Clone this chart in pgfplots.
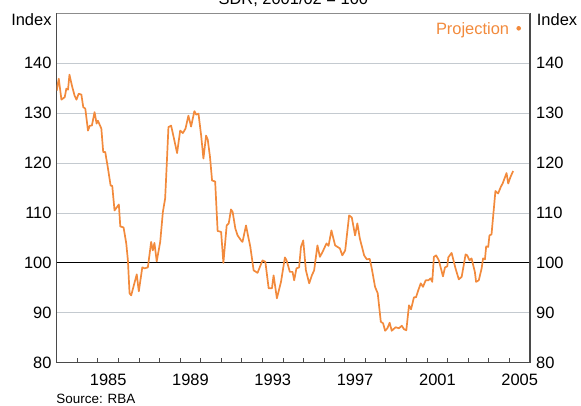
\documentclass[border=0pt]{standalone}
\usepackage{fontspec}
\setmainfont{Liberation Sans}
\usepackage{pgfplots}
\usepackage{pgfplotstable}
\pgfplotsset{compat=1.18}
\definecolor{rbaorange}{HTML}{F28A3C}
\definecolor{gridc}{HTML}{C4CAD0}
\definecolor{axc}{HTML}{4A4A4A}
\newcommand\tf{\fontsize{16.5}{19}\selectfont}
\pgfplotstableread{
year value
1983.00 134.5
1983.10 136.9
1983.23 132.7
1983.39 133.2
1983.47 134.9
1983.55 134.7
1983.62 137.7
1983.74 135.5
1983.87 133.5
1983.96 132.7
1984.07 133.9
1984.20 133.7
1984.29 131.2
1984.39 130.9
1984.52 126.5
1984.61 127.5
1984.71 127.5
1984.84 130.2
1984.94 127.9
1985.00 128.5
1985.17 126.9
1985.26 122.2
1985.36 122.2
1985.41 120.9
1985.47 119.5
1985.62 115.5
1985.70 115.4
1985.81 110.5
1986.02 111.7
1986.09 107.3
1986.25 107.1
1986.38 103.9
1986.46 100.5
1986.54 93.9
1986.62 93.5
1986.89 97.7
1986.99 94.3
1987.16 99.1
1987.27 98.9
1987.43 99.1
1987.59 104.2
1987.67 102.5
1987.75 104.0
1987.86 100.3
1988.03 104.2
1988.16 110.2
1988.27 112.9
1988.35 119.9
1988.43 127.2
1988.56 127.5
1988.72 124.5
1988.85 122.0
1989.00 126.5
1989.13 126.0
1989.26 126.9
1989.40 129.5
1989.53 127.3
1989.69 130.4
1989.78 129.7
1989.89 129.9
1990.02 125.5
1990.13 120.9
1990.26 125.5
1990.34 124.7
1990.45 121.2
1990.55 116.5
1990.70 116.3
1990.82 106.4
1990.99 106.2
1991.10 100.0
1991.26 107.5
1991.36 107.9
1991.47 110.7
1991.55 110.2
1991.68 106.9
1991.79 105.5
1991.96 104.5
1992.03 104.2
1992.20 107.5
1992.31 105.2
1992.41 103.2
1992.57 98.5
1992.76 98.0
1993.00 100.5
1993.14 100.2
1993.30 94.9
1993.46 94.9
1993.54 97.5
1993.70 92.9
1993.90 96.2
1994.09 101.1
1994.17 100.5
1994.33 98.2
1994.46 98.2
1994.54 96.5
1994.65 98.9
1994.78 99.1
1994.87 103.2
1994.98 104.5
1995.11 98.5
1995.27 95.9
1995.40 97.5
1995.51 98.5
1995.67 103.5
1995.79 101.2
1995.92 102.2
1996.11 103.9
1996.21 103.4
1996.35 106.5
1996.53 103.5
1996.76 102.9
1996.88 101.5
1997.02 102.5
1997.21 109.5
1997.34 109.1
1997.50 105.5
1997.61 107.9
1997.73 104.9
1997.94 101.5
1998.07 100.7
1998.21 100.8
1998.31 98.9
1998.47 95.2
1998.60 93.9
1998.75 88.2
1998.86 87.9
1998.96 86.4
1999.07 86.9
1999.18 88.0
1999.28 86.4
1999.47 87.1
1999.63 86.9
1999.77 87.4
1999.88 86.7
1999.99 86.5
2000.12 91.5
2000.22 90.7
2000.36 93.1
2000.46 93.1
2000.57 94.5
2000.69 95.9
2000.80 95.2
2000.93 96.5
2001.06 96.5
2001.17 96.9
2001.25 96.2
2001.33 101.2
2001.44 101.5
2001.57 100.5
2001.77 97.3
2001.87 99.1
2001.98 99.3
2002.03 101.1
2002.19 102.0
2002.38 98.9
2002.54 96.7
2002.68 97.2
2002.87 101.7
2002.95 101.5
2003.06 100.5
2003.16 100.9
2003.32 98.2
2003.38 96.2
2003.51 96.5
2003.65 98.9
2003.72 100.9
2003.81 100.7
2003.87 103.3
2003.97 103.2
2004.03 105.5
2004.13 105.7
2004.32 114.4
2004.45 113.9
2004.58 115.2
2004.68 116.0
2004.86 118.0
2004.94 115.9
2005.05 117.2
2005.18 118.4
}\sdr
\pgfplotstableread{
year value
1983 100
2006 100
}\base
\begin{document}
\begin{tikzpicture}
\begin{axis}[
  at={(0,0)}, anchor=south west,
  scale only axis, width=473.3bp, height=349.4bp,
  xmin=1983, xmax=2006, ymin=80, ymax=150,
  ytick={80,90,...,140},
  ymajorgrids, grid style={gridc, line width=0.9bp},
  ytick style={draw=none},
  yticklabel style={font=\tf, anchor=east, inner sep=0pt, xshift=-5bp},
  xtick={1984,...,2005}, xticklabels={},
  tick pos=bottom, tick align=inside,
  xtick style={axc, line width=0.9bp},
  major tick length=5bp,
  extra x ticks={1985.5,1989.5,1993.5,1997.5,2001.5,2005.5},
  extra x tick labels={1985,1989,1993,1997,2001,2005},
  extra x tick style={major tick length=0bp, xticklabel style={font=\tf, anchor=base, inner sep=0pt, yshift=-22.3bp}},
  /pgf/number format/assume math mode=true,
  axis line style={axc, line width=1.2bp},
  clip=true,
]
\addplot[black, line width=1bp, forget plot] table[x=year, y=value] {\base};
\addplot[rbaorange, line width=1.7bp, line join=round] table[x=year, y=value] {\sdr};
\end{axis}
\begin{axis}[
  at={(0,0)}, anchor=south west,
  scale only axis, width=473.3bp, height=349.4bp,
  xmin=1983, xmax=2006, ymin=80, ymax=150,
  axis x line=none, axis y line*=right,
  ytick={80,90,...,140},
  ytick style={draw=none},
  yticklabel style={font=\tf, anchor=west, inner sep=0pt, xshift=6bp},
  /pgf/number format/assume math mode=true,
  axis line style={axc, line width=1.2bp, -},
]
\end{axis}
\draw[gray!90, line width=1.2bp] (0,349.4bp) -- (473.3bp,349.4bp);
\node[font=\tf, anchor=base east, inner sep=0pt] at (-5bp,337bp) {Index};
\node[font=\tf, anchor=base west, inner sep=0pt] at (480bp,337bp) {Index};
\node[font=\tf, anchor=base east, inner sep=0pt, text=rbaorange] at (452.6bp,328.4bp) {Projection};
\fill[rbaorange] (462bp,334.4bp) circle (2.3bp);
\node[font=\tf, anchor=base, inner sep=0pt] at (236.65bp,358.2bp) {SDR, 2001/02 = 100};
\node[font=\fontsize{13.5}{15}\selectfont, anchor=base west, inner sep=0pt] at (-0.5bp,-41.0bp) {Source: RBA};
\pgfresetboundingbox
\useasboundingbox (-56.7bp,-43.3bp) rectangle (524.3bp,362.7bp);
\end{tikzpicture}
\end{document}
